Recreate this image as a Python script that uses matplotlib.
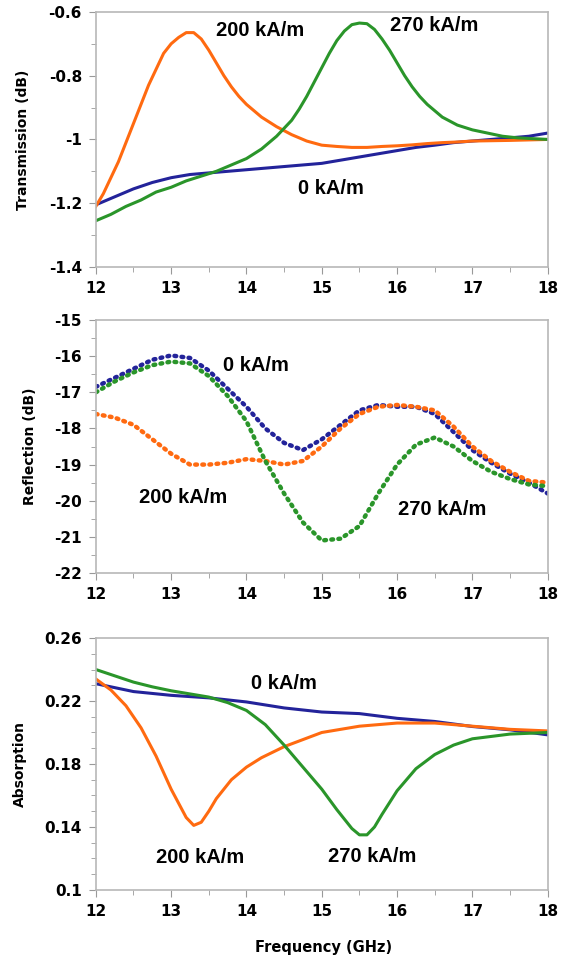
import matplotlib.pyplot as plt
import matplotlib.ticker as mticker

plt.rcParams["font.family"] = ["DejaVu Sans"]
plt.rcParams["font.weight"] = "bold"
plt.rcParams["axes.unicode_minus"] = False

# ---------------------------------------------------------
# data
# ---------------------------------------------------------
# Transmission (dB)
tr_0_f = [12.0, 12.25, 12.5, 12.75, 13.0, 13.25, 13.5, 13.75, 14.0, 14.5, 15.0, 15.25, 15.5,
          15.75, 16.0, 16.25, 16.5, 16.75, 17.0, 17.25, 17.5, 17.75, 18.0]
tr_0 = [-1.205, -1.18, -1.155, -1.135, -1.12, -1.11, -1.105, -1.10, -1.095, -1.085, -1.075, -1.065,
        -1.055, -1.045, -1.035, -1.025, -1.018, -1.01, -1.005, -1.0, -0.995, -0.99, -0.98]

tr_200_f = [12.0, 12.1, 12.2, 12.3, 12.4, 12.5, 12.6, 12.7, 12.8, 12.9, 13.0, 13.1, 13.2, 13.3,
            13.4, 13.5, 13.6, 13.7, 13.8, 13.9, 14.0, 14.2, 14.4, 14.6, 14.8, 15.0, 15.2, 15.4,
            15.6, 15.8, 16.0, 16.2, 16.4, 16.6, 16.8, 17.0, 17.5, 18.0]
tr_200 = [-1.21, -1.17, -1.12, -1.07, -1.01, -0.95, -0.89, -0.83, -0.78, -0.73, -0.70, -0.68,
          -0.665, -0.665, -0.685, -0.72, -0.76, -0.80, -0.835, -0.865, -0.89, -0.93, -0.96,
          -0.985, -1.005, -1.018, -1.022, -1.025, -1.025, -1.022, -1.02, -1.017, -1.013, -1.01,
          -1.008, -1.005, -1.003, -1.0]

tr_270_f = [12.0, 12.2, 12.4, 12.6, 12.8, 13.0, 13.2, 13.4, 13.6, 13.8, 14.0, 14.2, 14.4, 14.5,
            14.6, 14.7, 14.8, 14.9, 15.0, 15.1, 15.2, 15.3, 15.4, 15.5, 15.6, 15.7, 15.8, 15.9,
            16.0, 16.1, 16.2, 16.3, 16.4, 16.5, 16.6, 16.8, 17.0, 17.2, 17.4, 17.6, 18.0]
tr_270 = [-1.255, -1.235, -1.21, -1.19, -1.165, -1.15, -1.13, -1.115, -1.10, -1.08, -1.06, -1.03,
          -0.99, -0.965, -0.94, -0.905, -0.865, -0.82, -0.775, -0.73, -0.69, -0.66, -0.64, -0.635,
          -0.637, -0.655, -0.685, -0.72, -0.76, -0.80, -0.835, -0.865, -0.89, -0.91, -0.93,
          -0.955, -0.97, -0.98, -0.99, -0.995, -1.0]

# Reflection (dB)
rf_f = [12.0, 12.25, 12.5, 12.75, 13.0, 13.25, 13.5, 13.75, 14.0, 14.25, 14.5, 14.75, 15.0,
        15.25, 15.5, 15.75, 16.0, 16.25, 16.5, 16.75, 17.0, 17.25, 17.5, 17.75, 18.0]
rf_0 = [-16.85, -16.6, -16.35, -16.1, -15.98, -16.05, -16.4, -16.9, -17.4, -18.0, -18.4, -18.6,
        -18.3, -17.9, -17.5, -17.35, -17.4, -17.4, -17.6, -18.1, -18.6, -18.95, -19.25, -19.5, -19.8]
rf_200 = [-17.6, -17.7, -17.9, -18.3, -18.7, -19.0, -19.0, -18.95, -18.85, -18.9, -19.0, -18.9,
          -18.5, -18.0, -17.6, -17.4, -17.35, -17.4, -17.5, -17.95, -18.5, -18.9, -19.2, -19.45, -19.5]
rf_270 = [-17.0, -16.7, -16.45, -16.25, -16.15, -16.2, -16.55, -17.1, -17.8, -18.9, -19.8, -20.6,
          -21.1, -21.05, -20.7, -19.8, -19.0, -18.45, -18.25, -18.5, -18.9, -19.2, -19.4, -19.55, -19.6]

# Absorption
ab_0_f = [12.0, 12.5, 13.0, 13.5, 14.0, 14.5, 15.0, 15.5, 16.0, 16.5, 17.0, 17.5, 18.0]
ab_0 = [0.231, 0.226, 0.2236, 0.222, 0.2194, 0.2156, 0.213, 0.212, 0.209, 0.207, 0.2038, 0.2017, 0.1985]

ab_200_f = [12.0, 12.2, 12.4, 12.6, 12.8, 13.0, 13.1, 13.2, 13.3, 13.4, 13.5, 13.6, 13.8, 14.0,
            14.2, 14.5, 15.0, 15.5, 16.0, 16.5, 17.0, 17.5, 18.0]
ab_200 = [0.234, 0.227, 0.217, 0.203, 0.185, 0.164, 0.155, 0.146, 0.141, 0.143, 0.150, 0.158,
          0.170, 0.178, 0.184, 0.191, 0.200, 0.204, 0.206, 0.206, 0.204, 0.202, 0.201]

ab_270_f = [12.0, 12.25, 12.5, 12.75, 13.0, 13.25, 13.5, 13.75, 14.0, 14.25, 14.5, 14.75, 15.0,
            15.2, 15.4, 15.5, 15.6, 15.7, 15.8, 16.0, 16.25, 16.5, 16.75, 17.0, 17.5, 18.0]
ab_270 = [0.240, 0.236, 0.232, 0.229, 0.2265, 0.2245, 0.2225, 0.219, 0.214, 0.205, 0.192, 0.178,
          0.164, 0.151, 0.139, 0.135, 0.135, 0.140, 0.148, 0.163, 0.177, 0.186, 0.192, 0.196,
          0.199, 0.200]

c_blue = '#23239a'
c_orange = '#ff6a10'
c_green = '#2a952a'

ann = dict(fontsize=14.5, ha='center', va='center', family='Liberation Sans', fontweight='bold')

# ---------------------------------------------------------
# figure
# ---------------------------------------------------------
fig = plt.figure(figsize=(5.67, 9.59), dpi=100)
ax1 = fig.add_axes([0.169, 0.7216, 0.797, 0.266])
ax2 = fig.add_axes([0.169, 0.4025, 0.797, 0.2638])
ax3 = fig.add_axes([0.169, 0.0720, 0.797, 0.2627])

# transmission
ax1.plot(tr_0_f, tr_0, color=c_blue, lw=2.2)
ax1.plot(tr_200_f, tr_200, color=c_orange, lw=2.2)
ax1.plot(tr_270_f, tr_270, color=c_green, lw=2.2)
ax1.set_ylim(-1.4, -0.6)
ax1.yaxis.set_major_locator(mticker.MultipleLocator(0.2))
ax1.yaxis.set_minor_locator(mticker.MultipleLocator(0.1))
ax1.set_ylabel('Transmission (dB)')
ax1.yaxis.set_label_coords(-0.146, 0.5)
ax1.text(14.18, -0.658, '200 kA/m', **ann)
ax1.text(16.49, -0.642, '270 kA/m', **ann)
ax1.text(15.12, -1.153, '0 kA/m', **ann)

# reflection (dotted look)
dots = dict(lw=3.2, linestyle=(0, (0.4, 1.2)), dash_capstyle='round')
ax2.plot(rf_f, rf_0, color=c_blue, **dots)
ax2.plot(rf_f, rf_200, color=c_orange, **dots)
ax2.plot(rf_f, rf_270, color=c_green, **dots)
ax2.set_ylim(-22, -15)
ax2.yaxis.set_major_locator(mticker.MultipleLocator(1))
ax2.yaxis.set_minor_locator(mticker.MultipleLocator(0.5))
ax2.set_ylabel('Reflection (dB)')
ax2.yaxis.set_label_coords(-0.131, 0.5)
ax2.text(14.13, -16.26, '0 kA/m', **ann)
ax2.text(13.16, -19.9, '200 kA/m', **ann)
ax2.text(16.6, -20.23, '270 kA/m', **ann)

# absorption
ax3.plot(ab_0_f, ab_0, color=c_blue, lw=2.2)
ax3.plot(ab_200_f, ab_200, color=c_orange, lw=2.2)
ax3.plot(ab_270_f, ab_270, color=c_green, lw=2.2)
ax3.set_ylim(0.1, 0.26)
ax3.set_yticks([0.1, 0.14, 0.18, 0.22, 0.26])
ax3.yaxis.set_minor_locator(mticker.MultipleLocator(0.01))
ax3.set_ylabel('Absorption')
ax3.yaxis.set_label_coords(-0.153, 0.5)
ax3.set_xlabel('Frequency (GHz)')
ax3.xaxis.set_label_coords(0.503, -0.198)
ax3.text(14.5, 0.2308, '0 kA/m', **ann)
ax3.text(13.39, 0.1204, '200 kA/m', **ann)
ax3.text(15.67, 0.1215, '270 kA/m', **ann)

for ax in (ax1, ax2, ax3):
    ax.set_xlim(12, 18)
    ax.xaxis.set_major_locator(mticker.MultipleLocator(1))
    ax.xaxis.set_minor_locator(mticker.MultipleLocator(0.5))
    ax.xaxis.set_major_formatter(mticker.FuncFormatter(lambda v, p: f"{v:g}"))
    ax.yaxis.set_major_formatter(mticker.FuncFormatter(lambda v, p: f"{v:g}"))
    ax.yaxis.label.set_fontsize(10)
    ax.yaxis.label.set_fontweight('bold')
    ax.xaxis.label.set_fontsize(10.5)
    ax.xaxis.label.set_fontweight('bold')
    for s in ax.spines.values():
        s.set_color('#b8b8b8')
        s.set_linewidth(1.2)
    ax.tick_params(which='both', direction='out', color='#999999', labelsize=11, pad=5)
    ax.tick_params(which='major', length=5)
    ax.tick_params(which='minor', length=3.5)
    for lab in ax.get_xticklabels() + ax.get_yticklabels():
        lab.set_fontweight('bold')

fig.savefig('out.png', dpi=100)
